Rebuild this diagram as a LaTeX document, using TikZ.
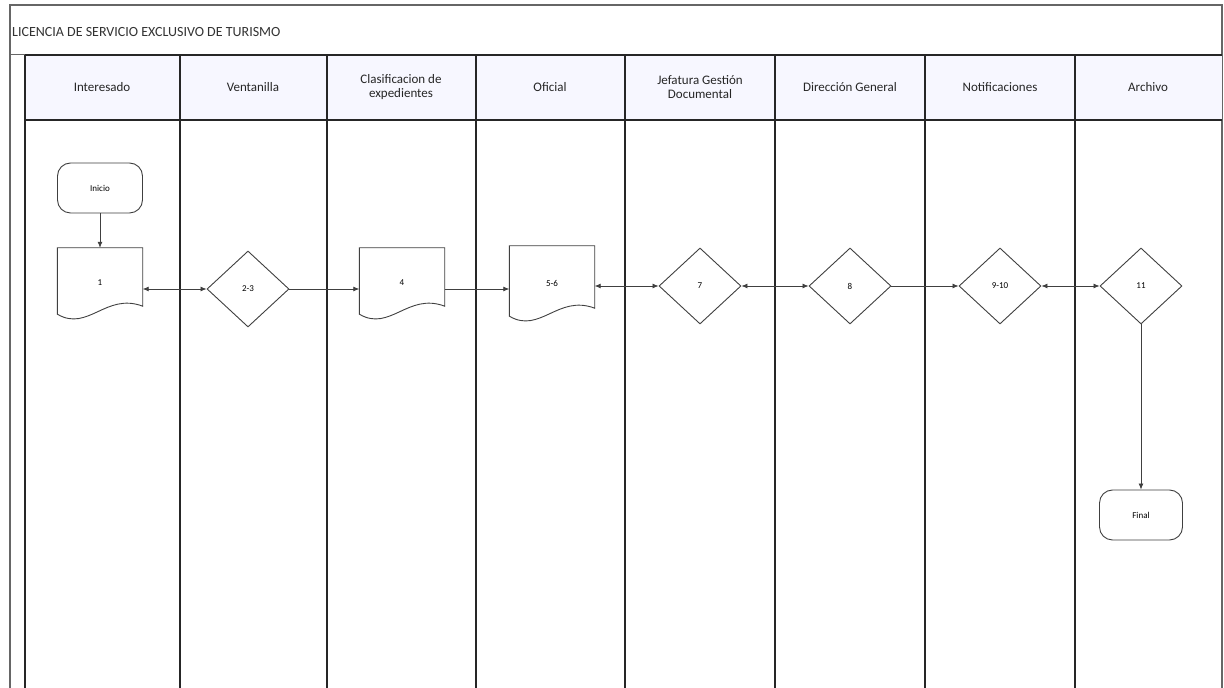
\documentclass[tikz,border=0pt]{standalone}
\usepackage{fontspec}
\setmainfont{Carlito}
\usetikzlibrary{shapes.geometric,arrows.meta,calc}
\tikzset{
  lane/.style={line width=1.6pt, draw=black!85},
  hdr/.style={font=\fontsize{13}{14}\selectfont, align=center, text=black!85},
  docbox/.style={rectangle, draw=none, minimum width=85pt, minimum height=70pt, inner sep=0pt, font=\fontsize{9}{10}\selectfont},
  docline/.style={draw=black!75, line width=0.9pt, fill=white},
  decis/.style={diamond, draw=black!75, line width=0.9pt, fill=white, minimum width=82pt, minimum height=76pt, inner sep=0pt, font=\fontsize{9}{10}\selectfont},
  term/.style={rectangle, rounded corners=13pt, draw=black!75, line width=0.9pt, fill=white, minimum width=85pt, minimum height=50pt, inner sep=0pt, font=\fontsize{9}{10}\selectfont},
  arr/.style={draw=black!75, line width=0.8pt, -{Latex[length=6pt,width=5pt]}},
  barr/.style={draw=black!75, line width=0.8pt, {Latex[length=6pt,width=5pt]}-{Latex[length=6pt,width=5pt]}}
}
\newcommand\docpath[1]{\draw[docline] (#1.north west) -- (#1.north east) -- ($(#1.south east)+(0,12)$) .. controls ($(#1.south)+(6,26)$) and ($(#1.south)+(-12,-14)$) .. ($(#1.south west)+(0,4)$) -- cycle;}
\begin{document}
\begin{tikzpicture}[x=1pt,y=1pt]
\useasboundingbox (0,0) rectangle (1224,688);
\fill[white] (0,0) rectangle (1224,688);
% outer frame and title row
\draw[line width=1.2pt, draw=black!60] (10,0) -- (10,683) -- (1222,683) -- (1222,0);
\draw[line width=1pt, draw=black!60] (10,633) -- (1222,633);
\node[anchor=west, font=\fontsize{14}{15}\selectfont, text=black!80, inner sep=0pt] (title) at (12,656) {LICENCIA DE SERVICIO EXCLUSIVO DE TURISMO};
% header row
\fill[blue!3] (25,633) rectangle (1222,568);
\draw[lane] (25,633) -- (1222,633);
\draw[lane] (25,568) -- (1222,568);
\foreach \x in {25,180,327,476,625,775,925,1075} {\draw[lane] (\x,633) -- (\x,0);}
\draw[line width=1pt, draw=black!60] (1222,633) -- (1222,0);
\node[hdr] (h1) at (102,601) {Interesado};
\node[hdr] (h2) at (253,601) {Ventanilla};
\node[hdr] (h3) at (401,601) {Clasificacion de\\expedientes};
\node[hdr] (h4) at (550,601) {Oficial};
\node[hdr] (h5) at (700,601) {Jefatura Gestión\\Documental};
\node[hdr] (h6) at (850,601) {Dirección General};
\node[hdr] (h7) at (1000,601) {Notificaciones};
\node[hdr] (h8) at (1148,601) {Archivo};
% shapes
\node[term] (ini) at (100,500) {Inicio};
\node[docbox] (d1) at (100,405) {1};
\docpath{d1}
\node[docbox] at (d1) {1};
\node[decis] (dA) at (248,399) {2-3};
\node[docbox] (d4) at (402,405) {4};
\docpath{d4}
\node[docbox] at (d4) {4};
\node[docbox, minimum height=74pt] (d56) at (552,405) {5-6};
\docpath{d56}
\node[docbox] at (d56) {5-6};
\node[decis] (d7) at (700,402) {7};
\node[decis] (d8) at (850,402) {8};
\node[decis] (d910) at (1000,402) {9-10};
\node[decis] (d11) at (1141,402) {11};
\node[term, minimum width=83pt] (fin) at (1141,173) {Final};
% connectors
\draw[arr] (ini.south) -- (d1.north);
\draw[barr] (d1.east |- dA.west) -- (dA.west);
\draw[arr] (dA.east) -- (d4.west |- dA.east);
\draw[arr] (d4.east |- dA.east) -- (d56.west |- dA.east);
\draw[barr] (d56.east |- d7.west) -- (d7.west);
\draw[barr] (d7.east) -- (d8.west);
\draw[arr] (d8.east) -- (d910.west);
\draw[barr] (d910.east) -- (d11.west);
\draw[arr] (d11.south) -- (fin.north);
\end{tikzpicture}
\end{document}
